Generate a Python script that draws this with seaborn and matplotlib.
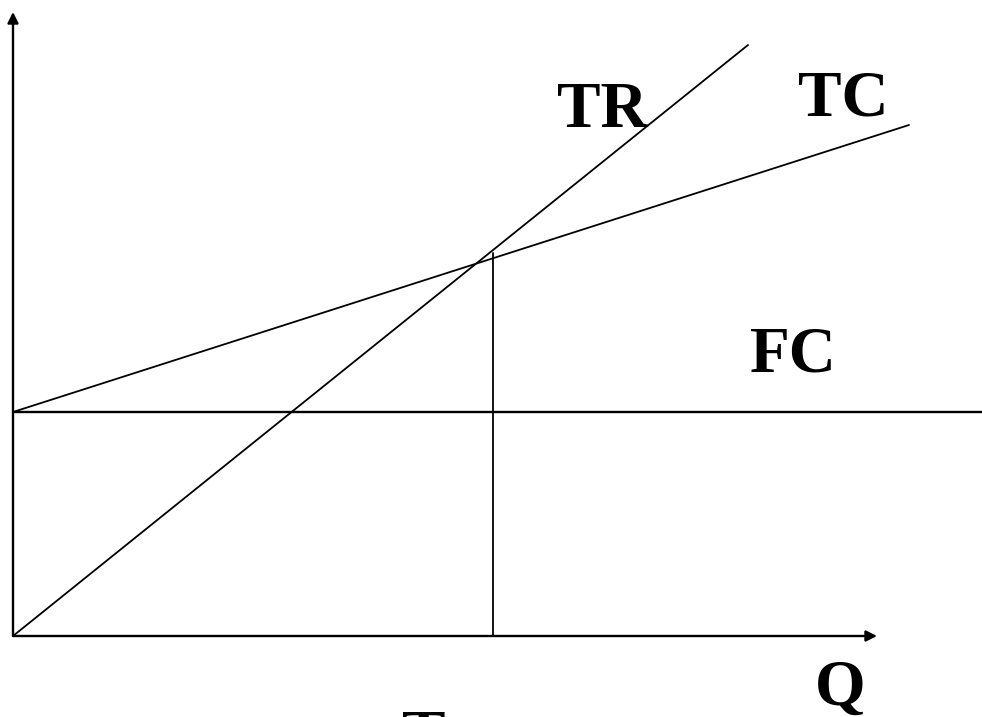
import matplotlib
matplotlib.use("Agg")
import matplotlib.pyplot as plt
import seaborn as sns

# break-even chart, units are arbitrary
tr_q = [0, 7.35]
tr_val = [0, 5.91]
tc_q = [0, 8.96]
tc_val = [2.24, 5.11]
fc_q = [0, 9.69]
fc_val = [2.24, 2.24]
be_q = [4.80, 4.80]
be_val = [0, 3.83]

x_axis_end = 8.64
y_axis_end = 6.24

labels = ["TR", "TC", "FC", "Q", "T"]
label_x = [5.89, 8.30, 7.80, 8.27, 4.11]
label_y = [5.09, 5.21, 2.65, -0.69, -1.19]

sns.set_theme(style="white")
plt.rcParams['font.family'] = ['Liberation Serif', 'DejaVu Serif']

fig = plt.figure(figsize=(9.82, 7.17), dpi=100)
ax = fig.add_axes([0, 0, 1, 1])

# estimator=None so seaborn draws the raw points (no averaging / error band)
sns.lineplot(x=tr_q, y=tr_val, ax=ax, color="black", lw=1.3, estimator=None, sort=False)
sns.lineplot(x=tc_q, y=tc_val, ax=ax, color="black", lw=1.3, estimator=None, sort=False)
sns.lineplot(x=fc_q, y=fc_val, ax=ax, color="black", lw=1.7, estimator=None, sort=False)
sns.lineplot(x=be_q, y=be_val, ax=ax, color="black", lw=1.3, estimator=None, sort=False)

# axes with arrow heads
arrow = dict(arrowstyle="-|>", color="black", lw=1.7, mutation_scale=16, shrinkA=0, shrinkB=0)
ax.annotate("", xy=(x_axis_end, 0), xytext=(0, 0), arrowprops=arrow)
ax.annotate("", xy=(0, y_axis_end), xytext=(0, 0), arrowprops=arrow)

for t, x, y in zip(labels, label_x, label_y):
    ax.text(x, y, t, ha="center", va="baseline", fontsize=47, fontweight="bold", color="black")

ax.set_xlim(-0.13, 9.69)
ax.set_ylim(-0.81, 6.36)
ax.axis("off")

fig.savefig("out.png", dpi=100)
